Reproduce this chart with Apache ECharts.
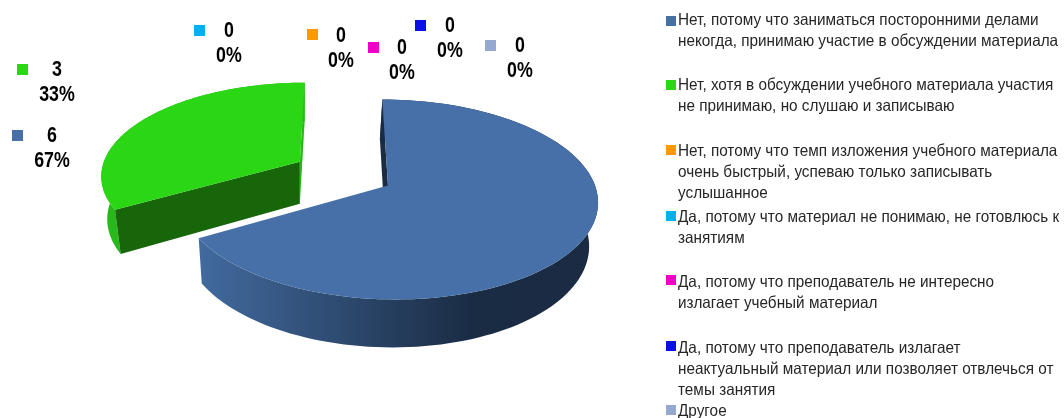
<!DOCTYPE html>
<html><head><meta charset="utf-8">
<script src="https://cdn.jsdelivr.net/npm/echarts@6/dist/echarts.min.js"></script>
<style>html,body{margin:0;padding:0;background:#fff}#c{width:1064px;height:418px}</style>
</head><body><div id="c"></div>
<script>
const categories = [
  'Нет, потому что заниматься посторонними делами\nнекогда, принимаю участие в обсуждении материала',
  'Нет, хотя в обсуждении учебного материала участия\nне принимаю, но слушаю и записываю',
  'Нет, потому что темп изложения учебного материала\nочень быстрый, успеваю только записывать\nуслышанное',
  'Да, потому что материал не понимаю, не готовлюсь к\nзанятиям',
  'Да, потому что преподаватель не интересно\nизлагает учебный материал',
  'Да, потому что преподаватель излагает\nнеактуальный материал или позволяет отвлечься от\nтемы занятия',
  'Другое'
];
const values = [6, 3, 0, 0, 0, 0, 0];
const percents = ['67%', '33%', '0%', '0%', '0%', '0%', '0%'];
const colors = ['#4670a7', '#2bd615', '#ff9900', '#00b0f0', '#f000c8', '#0a10e6', '#95a9d0'];
const wallColors = [null, '#27b81a'];
const faceColors = ['#1a2c44', '#17660a'];
const explode = [0, 0.5, 0, 0, 0, 0, 0];
const radii = [1, 0.98, 1, 1, 1, 1, 1];

// layout
const legendY = [20, 85, 151, 217, 282, 348, 411];
const legendKeyY = [16, 80, 145, 211, 275, 341, 405];
const labelPos = [[12,130,52,136],[17,64,57,70],[307,29,341,36],[194,25,229,31],[368,42,402,48],[415,20,450,26],[485,40,520,46]];
const P = {vx:342, y0:185.5, a:207, b:98, k:0.14, c:46/207};
const LABEL_FONT = 'bold 22px "Liberation Sans", sans-serif';
const LEGEND_FONT = '16.5px "Liberation Sans", sans-serif';
const LINE = 21.3;

const total = values.reduce((s,v)=>s+v,0);
function top3(u,v){ const w=1+P.k*v; return [P.vx+P.a*(u+P.c)/w, P.y0-P.b*v/w]; }
function down(p){ return [300+(p[0]-300)*0.97, 203+1.043*(p[1]-161)]; }
function rad(d){ return d*Math.PI/180; }

function renderSlice(params, api){
  const i = params.dataIndex, val = api.value(0);
  if(!val) return null;
  let before=0; for(let j=0;j<i;j++) before+=values[j];
  const t0 = before/total*360, t1 = (before+val)/total*360, mid=rad((t0+t1)/2);
  const du = explode[i]*Math.sin(mid), dv = explode[i]*Math.cos(mid), r=radii[i];
  const pt = t => top3(du+r*Math.sin(rad(t)), dv+r*Math.cos(rad(t)));
  const apex = top3(du,dv);
  const arc=[]; const n=120;
  for(let s=0;s<=n;s++) arc.push(pt(t0+(t1-t0)*s/n));
  const wallFill = wallColors[i] || new echarts.graphic.LinearGradient(200,0,600,0,[
    {offset:0,color:'#426a9e'},{offset:0.68,color:'#1a2c44'},{offset:1,color:'#1a2b42'}],true);
  const shape = (pts,fill) => ({type:'polygon',shape:{points:pts},style:{fill}});
  const kids=[shape(arc.concat(arc.slice().reverse().map(down)),wallFill)];
  if(wallColors[i]) kids.push(shape([arc[n],apex,down(apex),down(arc[n])],wallColors[i]));
  kids.push(shape([arc[0],apex,down(apex),down(arc[0])],faceColors[i]));
  kids.push(shape([apex].concat(arc),colors[i]));
  return {type:'group',children:kids};
}

function renderLabel(params, api){
  const i=params.dataIndex, p=labelPos[i];
  const txt=(s,y)=>({type:'text',x:p[2],y,scaleX:0.81,style:{text:s,x:0,y:0,font:LABEL_FONT,fill:'#000',align:'center',verticalAlign:'middle'}});
  return {type:'group',children:[
    {type:'rect',shape:{x:p[0],y:p[1],width:11,height:11},style:{fill:colors[i]}},
    txt(String(api.value(0)),p[3]), txt(percents[i],p[3]+25)
  ]};
}

function renderLegend(params){
  const i=params.dataIndex;
  const kids=[{type:'rect',shape:{x:666,y:legendKeyY[i],width:10,height:10},style:{fill:colors[i]}}];
  categories[i].split('\n').forEach((line,j)=>{
    kids.push({type:'text',x:678,y:legendY[i]+j*LINE,scaleX:0.928,style:{text:line,x:0,y:0,font:LEGEND_FONT,fill:'#262626',align:'left',verticalAlign:'middle'}});
  });
  return {type:'group',children:kids};
}

const data = values.map(v=>[v]);
echarts.init(document.getElementById('c'),null,{renderer:'canvas'}).setOption({
  animation:false, backgroundColor:'#fff',
  series:[
    {type:'custom',coordinateSystem:'none',renderItem:renderSlice,data,silent:true},
    {type:'custom',coordinateSystem:'none',renderItem:renderLabel,data,silent:true},
    {type:'custom',coordinateSystem:'none',renderItem:renderLegend,data,silent:true}
  ]
});
</script></body></html>
